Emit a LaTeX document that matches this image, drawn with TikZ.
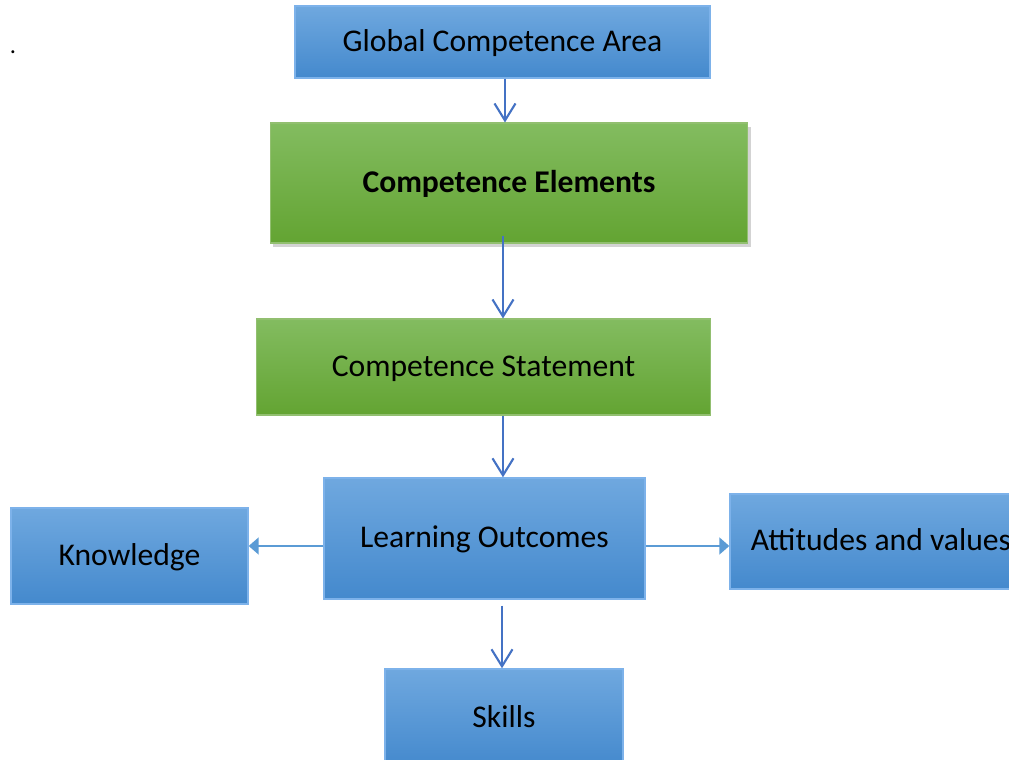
\documentclass[tikz,border=0pt]{standalone}
\usepackage{fontspec}
\setmainfont{Carlito}
\usetikzlibrary{arrows.meta,shadows}

\definecolor{boxtop}{RGB}{111,168,223}
\definecolor{boxbot}{RGB}{68,137,205}
\definecolor{boxline}{RGB}{125,178,234}
\definecolor{greentop}{RGB}{131,188,96}
\definecolor{greenbot}{RGB}{99,164,50}
\definecolor{arrowblue}{RGB}{68,114,196}
\definecolor{sideblue}{RGB}{91,155,213}

\tikzset{
  bluebox/.style={draw=boxline, line width=0.8pt, top color=boxtop, bottom color=boxbot,
    font=\fontsize{18}{21}\selectfont, inner sep=0pt, text height=1.24em, text depth=0.2em},
  greenbox/.style={draw=greenbot!70, line width=0.6pt, top color=greentop, bottom color=greenbot,
    font=\fontsize{18}{21}\selectfont, inner sep=0pt, text height=1.24em, text depth=0.2em},
  downarrow/.style={draw=arrowblue, line width=1.2pt, -{Straight Barb[length=0.34cm,width=0.42cm]}},
  sidearrow/.style={draw=sideblue, line width=1pt, -{Triangle[length=0.2cm,width=0.34cm]}}
}

\begin{document}
\begin{tikzpicture}[x=0.02cm, y=-0.02cm]
    % Rahmen
    \clip (0,0) rectangle (1009,760);
    \node[font=\fontsize{14}{16}\selectfont] (dot) at (13,52) {.};

    % Kaesten
    \node[bluebox, minimum width=8.3cm, minimum height=1.44cm] (glob) at (502.5,42) {Global Competence Area};
    \node[greenbox, minimum width=9.56cm, minimum height=2.4cm, font=\fontsize{18}{21}\selectfont\bfseries,
      drop shadow={opacity=0.35, shadow xshift=0.06cm, shadow yshift=-0.08cm}] (elem) at (509,183) {Competence Elements};
    \node[greenbox, minimum width=9.1cm, minimum height=1.92cm] (stat) at (483.5,367) {Competence Statement};
    \node[bluebox, minimum width=6.42cm, minimum height=2.42cm] (lo) at (484.5,538.5) {Learning Outcomes};
    \node[bluebox, minimum width=4.74cm, minimum height=1.92cm] (know) at (129.5,556) {Knowledge};
    \node[bluebox, minimum width=6.04cm, minimum height=1.9cm] (att) at (881,541.5) {Attitudes and values};
    \node[bluebox, minimum width=4.76cm, minimum height=1.96cm] (skill) at (504,718) {Skills};

    % Pfeile
    \draw[downarrow] ([xshift=0.05cm]glob.south) -- ([xshift=0.05cm]glob.south |- elem.north);
    \draw[downarrow] ([xshift=-0.12cm,yshift=0.16cm]elem.south) -- ([xshift=-0.12cm]elem.south |- stat.north);
    \draw[downarrow] ([xshift=0.39cm]stat.south) -- ([xshift=0.39cm]stat.south |- lo.north);
    \draw[downarrow] ([xshift=0.35cm,yshift=-0.12cm]lo.south) -- ([xshift=0.35cm]lo.south |- skill.north);
    \draw[sidearrow] ([yshift=-0.15cm]lo.west) -- ([yshift=-0.15cm]lo.west -| know.east);
    \draw[sidearrow] ([yshift=-0.15cm]lo.east) -- ([yshift=-0.15cm]lo.east -| att.west);
\end{tikzpicture}
\end{document}
